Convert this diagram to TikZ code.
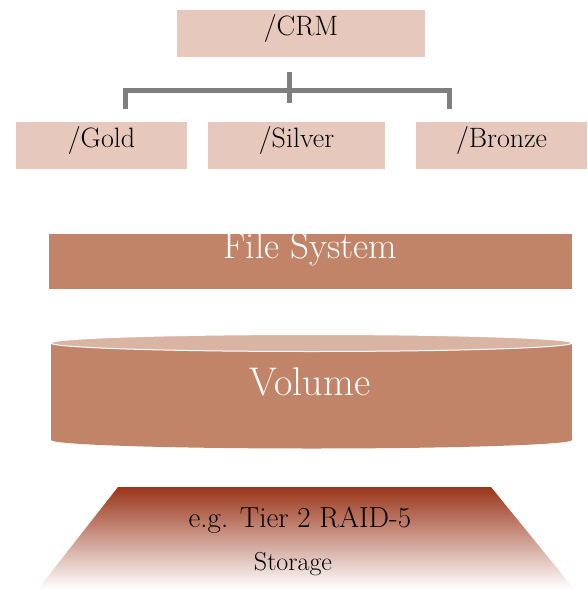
\documentclass[tikz,border=0pt]{standalone}
\usepackage{xcolor}
\usepackage{tikz}
\usetikzlibrary{positioning}
\definecolor{dirfill}{HTML}{E6C9BC}
\definecolor{layerfill}{HTML}{C18468}
\definecolor{lidfill}{HTML}{D9B4A2}
\definecolor{linkgray}{HTML}{7F7F7F}
\definecolor{tierred}{HTML}{9A3519}

\begin{document}
\begin{tikzpicture}[x=1pt, y=-1pt,
   dirbox/.style={fill=dirfill, inner sep=0pt, minimum height=47pt,
     text height=25pt, text depth=22pt, font=\fontsize{28}{32}\selectfont},
   layerbox/.style={fill=layerfill, inner sep=0pt, minimum height=55pt,
     text height=24pt, text depth=31pt, text=white, font=\fontsize{37}{42}\selectfont},
   link/.style={draw=linkgray, line width=5pt},
   tiertext/.style={anchor=base, font=\fontsize{29}{33}\selectfont}]
  \useasboundingbox (0,0) rectangle (587,589);
  % directory tree
  \node[dirbox, minimum width=248pt] (crm) at (301,33.5) {/CRM};
  \node[dirbox, minimum width=171pt] (gold) at (101.5,145.5) {/Gold};
  \node[dirbox, minimum width=177pt] (silver) at (296.5,145.5) {/Silver};
  \node[dirbox, minimum width=171pt] (bronze) at (501.5,145.5) {/Bronze};
  \coordinate (stubtop) at (289,72);
  \coordinate (stubend) at (289,103);
  \coordinate (goldtop) at (125,109);
  \coordinate (bronzetop) at (449,109);
  \draw[link] (stubtop) -- (stubend);
  \draw[link] (goldtop) -- ++(0,-19) -| (bronzetop);
  % file system
  \node[layerbox, minimum width=523pt] (fs) at (310.5,261.5) {File System};
  % volume
  \fill[layerfill] (51,343) rectangle (572,440);
  \fill[layerfill] (311.5,440) ellipse [x radius=260.5, y radius=8.5];
  \filldraw[fill=lidfill, draw=white, line width=1pt] (311.5,343) ellipse [x radius=260.5, y radius=8.5];
  \node[anchor=base, text=white, font=\fontsize{40}{46}\selectfont] (volume) at (310,395) {Volume};
  % storage
  \shade[top color=tierred, middle color=tierred!35!white, bottom color=white]
    (118,487) -- (491,487) -- (574,589) -- (38,589) -- cycle;
  \node[tiertext] (tier) at (300,527) {e.g. Tier 2 RAID-5};
  \node[tiertext, font=\fontsize{26}{30}\selectfont] (storage) at (293,570) {Storage};
\end{tikzpicture}
\end{document}
